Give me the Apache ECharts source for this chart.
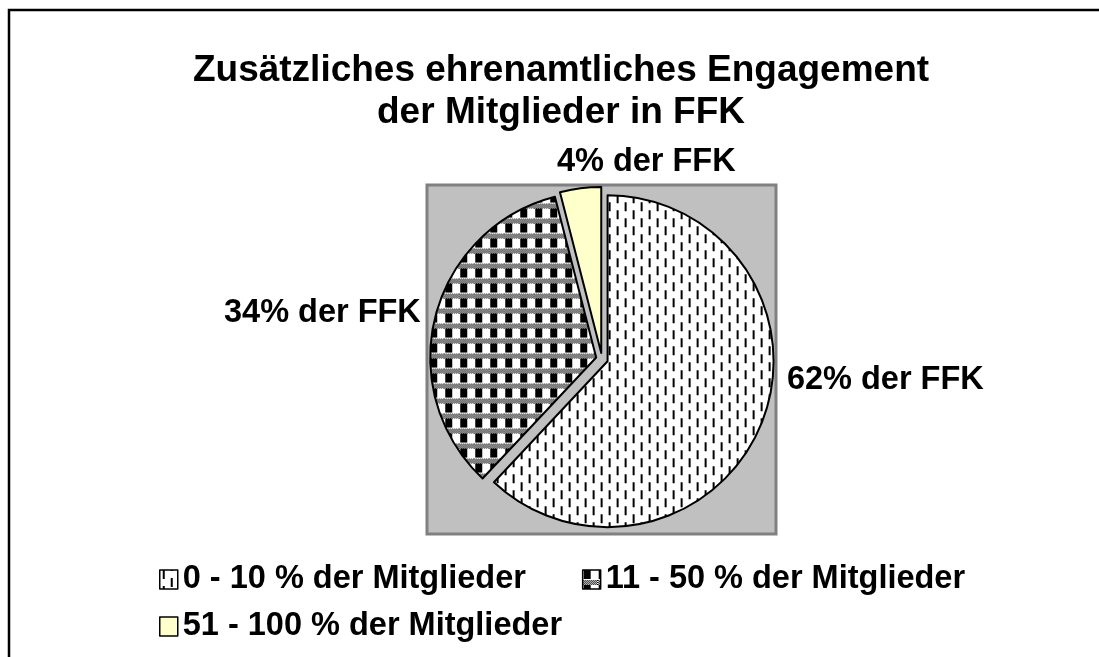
<!DOCTYPE html>
<html><head><meta charset="utf-8">
<script src="https://cdn.jsdelivr.net/npm/echarts@6/dist/echarts.min.js"></script>
<style>html,body{margin:0;padding:0;background:#fff}#c{width:1099px;height:657px}</style>
</head><body><div id="c"></div>
<script>
const titleText = 'Zusätzliches ehrenamtliches Engagement\nder Mitglieder in FFK';
const categories = ['0 - 10 % der Mitglieder', '11 - 50 % der Mitglieder', '51 - 100 % der Mitglieder'];
const values = [62, 34, 4];
const legendRow1 = [categories[0], categories[1]];
const legendRow2 = [categories[2]];

const FONT = '"Liberation Sans", Arial, sans-serif';

function dashPattern() {
  const c = document.createElement('canvas'); c.width = 16; c.height = 16;
  const g = c.getContext('2d');
  g.fillStyle = '#fff'; g.fillRect(0, 0, 16, 16);
  g.fillStyle = '#000';
  g.fillRect(3, 0, 2, 9);
  g.fillRect(11, 8, 2, 8);
  g.fillRect(11, 0, 2, 1);
  return c;
}
function checkPattern() {
  const c = document.createElement('canvas'); c.width = 15; c.height = 15;
  const g = c.getContext('2d');
  g.fillStyle = '#fff'; g.fillRect(0, 0, 15, 15);
  g.fillStyle = '#000';
  g.fillRect(1, 0, 7, 9);
  for (let y = 10; y < 15; y++) {
    for (let x = 0; x < 15; x++) {
      if ((x + y) % 2 === 0) g.fillRect(x, y, 1, 1);
    }
  }
  return c;
}
const fills = [
  { image: dashPattern(), repeat: 'repeat' },
  { image: checkPattern(), repeat: 'repeat' },
  '#ffffcc'
];
const labelNudge = [[1, -47], [10, 0], [168, -12]];

const chart = echarts.init(document.getElementById('c'), null, { renderer: 'canvas' });
chart.setOption({
  animation: false,
  backgroundColor: '#fff',
  title: {
    text: titleText, left: 561, top: 50, textAlign: 'center', padding: 0,
    textStyle: { fontFamily: FONT, fontSize: 37, fontWeight: 'bold', color: '#000', lineHeight: 42 }
  },
  graphic: [
    { type: 'polyline', shape: { points: [[9, 657], [9, 10], [1099, 10]] }, style: { stroke: '#000', lineWidth: 2.5, fill: null }, z: 0 },
    { type: 'rect', shape: { x: 427, y: 185, width: 349, height: 349 }, style: { fill: '#c0c0c0', stroke: '#808080', lineWidth: 3 }, z: 0 }
  ],
  legend: [
    {
      data: legendRow1, left: 154, top: 558, itemGap: 56, itemWidth: 18, itemHeight: 19, icon: 'rect',
      selectedMode: false,
      itemStyle: { borderColor: '#000', borderWidth: 1.5 },
      textStyle: { fontFamily: FONT, fontSize: 32.5, fontWeight: 'bold', color: '#000' }
    },
    {
      data: legendRow2, left: 154, top: 605, itemWidth: 18, itemHeight: 19, icon: 'rect',
      selectedMode: false,
      itemStyle: { borderColor: '#000', borderWidth: 1.5 },
      textStyle: { fontFamily: FONT, fontSize: 32.5, fontWeight: 'bold', color: '#000' }
    }
  ],
  series: [{
    type: 'pie',
    center: [602, 359], radius: 166,
    startAngle: 90, clockwise: true,
    selectedMode: 'multiple', selectedOffset: 6,
    percentPrecision: 0,
    data: values.map((v, i) => ({ value: v, name: categories[i], selected: true, itemStyle: { color: fills[i] } })),
    itemStyle: { borderColor: '#000', borderWidth: 2 },
    select: { itemStyle: { borderColor: '#000', borderWidth: 2 } },
    emphasis: { disabled: true },
    label: {
      show: true, position: 'outside', formatter: '{d}% der FFK',
      fontFamily: FONT, fontSize: 32.5, fontWeight: 'bold', color: '#000'
    },
    labelLine: { show: false, length: 14, length2: 6 },
    labelLayout: function (p) {
      const n = labelNudge[p.dataIndex];
      return { dx: n[0], dy: n[1] };
    }
  }]
});
</script></body></html>
